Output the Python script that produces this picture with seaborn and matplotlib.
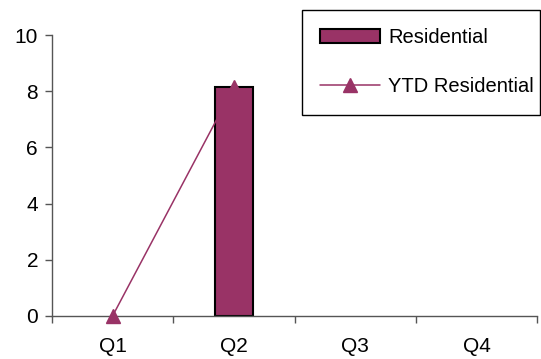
import numpy as np
import pandas as pd
import matplotlib
matplotlib.use("Agg")
import matplotlib.pyplot as plt
import seaborn as sns
from matplotlib.ticker import FixedLocator, NullFormatter

quarters = ["Q1", "Q2", "Q3", "Q4"]
residential = [np.nan, 8.15, np.nan, np.nan]
ytd_residential = [0.0, 8.15, np.nan, np.nan]

sns.set_theme(style="white")
plt.rcParams['font.family'] = ['Liberation Sans', 'DejaVu Sans']
plt.rcParams['text.color'] = 'black'
plt.rcParams['xtick.color'] = 'black'
plt.rcParams['ytick.color'] = 'black'

plum = "#993366"

df = pd.DataFrame({"quarter": quarters, "Residential": residential,
                   "YTD Residential": ytd_residential})

fig = plt.figure(figsize=(5.41, 3.59), dpi=100)
ax = fig.add_axes([0.096, 0.12, 0.897, 0.7825])

sns.barplot(data=df, x="quarter", y="Residential", order=quarters, color=plum,
            saturation=1, width=0.31, edgecolor="black", linewidth=1.5,
            label="Residential", ax=ax)
ax.plot(np.arange(len(quarters)), df["YTD Residential"], color=plum, lw=1.1,
        marker="^", markersize=10, label="YTD Residential", clip_on=False,
        zorder=5)

ax.set_xlim(-0.5, 3.5)
ax.set_ylim(0, 10)
ax.set_yticks(range(0, 11, 2))
ax.set_xlabel("")
ax.set_ylabel("")

ax.xaxis.set_minor_locator(FixedLocator([-0.5, 0.5, 1.5, 2.5, 3.5]))
ax.xaxis.set_minor_formatter(NullFormatter())
ax.tick_params(axis="x", which="major", length=0, labelsize=15, pad=15)
ax.tick_params(axis="x", which="minor", length=5, width=1, color="#555555",
               bottom=True, direction="out")
ax.tick_params(axis="y", length=5, width=1, color="#555555", left=True,
               direction="out", labelsize=15, pad=5)

for side in ["top", "right"]:
    ax.spines[side].set_visible(False)
for side in ["left", "bottom"]:
    ax.spines[side].set_color("#555555")
    ax.spines[side].set_linewidth(1)

handles, labels = ax.get_legend_handles_labels()
order = [labels.index("Residential"), labels.index("YTD Residential")]
leg = fig.legend([handles[i] for i in order], [labels[i] for i in order],
                 loc="upper left", bbox_to_anchor=(0.558, 0.5, 0.44, 0.472),
                 mode="expand",
                 fontsize=14.5, frameon=True, fancybox=False, framealpha=1,
                 edgecolor="black", handlelength=3, labelspacing=1.5,
                 borderpad=0.9, handletextpad=0.4, borderaxespad=0)
leg.get_frame().set_linewidth(1)

fig.savefig("out.png", dpi=100)
